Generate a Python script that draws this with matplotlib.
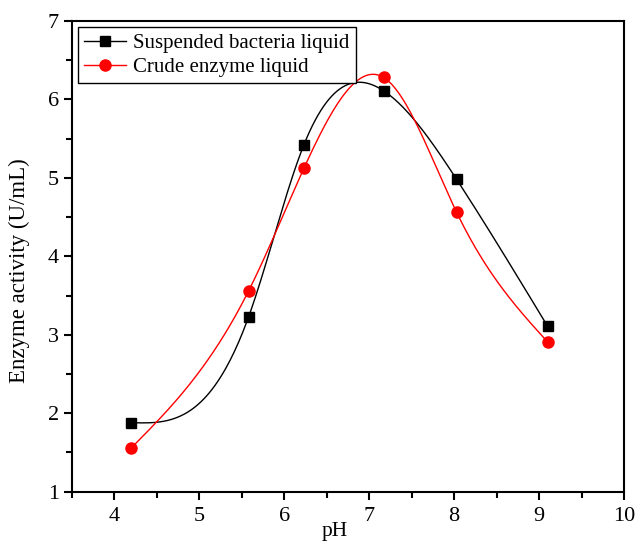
import numpy as np
import matplotlib.pyplot as plt
from matplotlib.ticker import MultipleLocator

plt.rcParams['font.family'] = ['Liberation Serif', 'DejaVu Serif']

ph = [4.2, 5.58, 6.23, 7.17, 8.03, 9.1]
bacteria = [1.88, 3.23, 5.42, 6.11, 4.98, 3.11]
enzyme = [1.56, 3.56, 5.12, 6.28, 4.56, 2.91]


def natural_spline(x, y, n=300):
    """Natural cubic spline through (x, y), evaluated on a fine grid."""
    x = np.asarray(x, float)
    y = np.asarray(y, float)
    k = len(x)
    h = np.diff(x)
    A = np.zeros((k, k))
    r = np.zeros(k)
    A[0, 0] = A[-1, -1] = 1.0
    for i in range(1, k - 1):
        A[i, i - 1] = h[i - 1]
        A[i, i] = 2 * (h[i - 1] + h[i])
        A[i, i + 1] = h[i]
        r[i] = 6 * ((y[i + 1] - y[i]) / h[i] - (y[i] - y[i - 1]) / h[i - 1])
    m = np.linalg.solve(A, r)
    xs = np.linspace(x[0], x[-1], n)
    idx = np.clip(np.searchsorted(x, xs) - 1, 0, k - 2)
    t0 = x[idx]
    t1 = x[idx + 1]
    hh = t1 - t0
    a = (t1 - xs) / hh
    b = (xs - t0) / hh
    ys = (a * y[idx] + b * y[idx + 1]
          + ((a ** 3 - a) * m[idx] + (b ** 3 - b) * m[idx + 1]) * hh ** 2 / 6)
    return xs, ys


fig = plt.figure(figsize=(6.36, 5.44), dpi=100)
ax = fig.add_axes([0.1132, 0.0961, 0.8679, 0.8653])

xs, ys = natural_spline(ph, bacteria)
ax.plot(xs, ys, color='black', lw=1.0)
ax.plot(ph, bacteria, 's', color='black', ms=7, ls='none')
ax.plot([], [], '-s', color='black', ms=7, lw=1.0, label='Suspended bacteria liquid')

xs, ys = natural_spline(ph, enzyme)
ax.plot(xs, ys, color='red', lw=1.0)
ax.plot(ph, enzyme, 'o', color='red', ms=8, ls='none')
ax.plot([], [], '-o', color='red', ms=8, lw=1.0, label='Crude enzyme liquid')

ax.set_xlim(3.5, 10)
ax.set_ylim(1, 7)
ax.xaxis.set_major_locator(MultipleLocator(1))
ax.xaxis.set_minor_locator(MultipleLocator(0.5))
ax.yaxis.set_major_locator(MultipleLocator(1))
ax.yaxis.set_minor_locator(MultipleLocator(0.5))
ax.tick_params(which='both', direction='out', width=1.5, labelsize=16)
ax.tick_params(which='major', length=6)
ax.tick_params(which='minor', length=4)
ax.tick_params(axis='x', pad=5)
for s in ax.spines.values():
    s.set_linewidth(1.5)

ax.set_xlabel('pH', fontsize=15.5, va='top')
ax.xaxis.set_label_coords(0.476, -0.064)
ax.set_ylabel('Enzyme activity (U/mL)', fontsize=16.5, va='center')
ax.yaxis.set_label_coords(-0.096, 0.469)

leg = ax.legend(loc='upper left', fontsize=15, fancybox=False, framealpha=1,
                edgecolor='black', handlelength=2.0, borderpad=0.3,
                labelspacing=0.2, borderaxespad=0.3, handletextpad=0.35)
leg.get_frame().set_linewidth(1.0)

fig.savefig('out.png', dpi=100)
